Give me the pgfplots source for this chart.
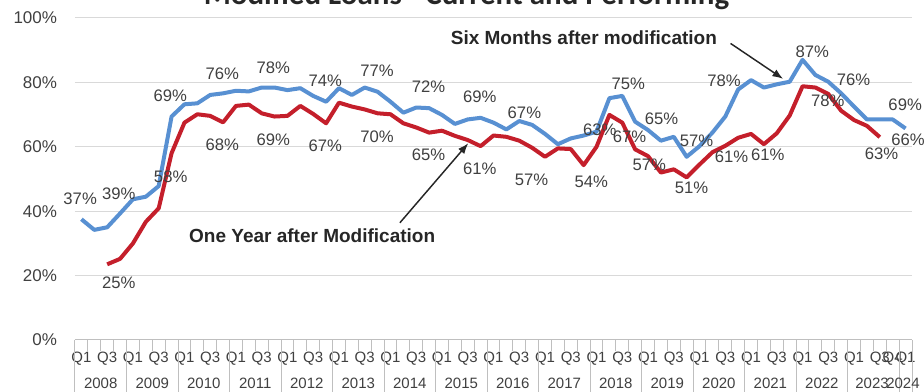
\documentclass[border=0pt]{standalone}
\usepackage{pgfplots}
\pgfplotsset{compat=1.18}
\usepackage{pgfplotstable}
\usepackage{fontspec}
\setmainfont{Liberation Sans}
\newfontfamily\titlefont{Carlito}
\usetikzlibrary{arrows.meta}
\definecolor{sixblue}{HTML}{5890D2}
\definecolor{yearred}{HTML}{C41F2B}
\definecolor{lbl}{HTML}{404040}
\definecolor{gridc}{HTML}{D9D9D9}
\definecolor{axc}{HTML}{BFBFBF}

\pgfplotstableread{
q v
0 37.5
1 34.2
2 35.0
3 39.3
4 43.7
5 44.5
6 47.8
7 69.4
8 73.2
9 73.5
10 76.1
11 76.6
12 77.4
13 77.2
14 78.4
15 78.4
16 77.6
17 78.2
18 75.8
19 74.0
20 78.2
21 76.1
22 78.4
23 77.1
24 74.0
25 70.6
26 72.2
27 72.0
28 69.9
29 67.1
30 68.5
31 69.0
32 67.5
33 65.4
34 68.0
35 66.8
36 64.0
37 60.8
38 62.6
39 63.5
40 64.7
41 75.1
42 75.8
43 67.8
44 65.2
45 61.9
46 63.1
47 56.9
48 60.2
49 64.4
50 69.4
51 77.8
52 80.7
53 78.4
54 79.4
55 80.2
56 87.0
57 82.3
58 80.2
59 76.6
60 72.5
61 68.5
62 68.5
63 68.5
64 65.7
}\sixmonths

\pgfplotstableread{
q v
2 23.5
3 25.2
4 30.0
5 36.7
6 40.9
7 58.0
8 67.5
9 70.1
10 69.6
11 67.6
12 72.7
13 73.1
14 70.4
15 69.4
16 69.6
17 72.7
18 70.2
19 67.3
20 73.7
21 72.5
22 71.6
23 70.4
24 70.1
25 67.3
26 66.0
27 64.4
28 65.0
29 63.4
30 62.1
31 60.2
32 63.5
33 63.1
34 61.9
35 59.7
36 56.9
37 59.5
38 59.3
39 54.3
40 60.0
41 69.9
42 67.5
43 59.2
44 57.1
45 52.0
46 53.0
47 50.5
48 54.5
49 58.3
50 60.3
51 62.8
52 64.0
53 60.8
54 64.2
55 69.7
56 78.8
57 78.4
58 76.4
59 71.2
60 68.3
61 66.5
62 63.0
}\oneyear

\begin{document}
\begin{tikzpicture}[x=1pt,y=1pt]
\begin{axis}[
  at={(0pt,0pt)}, anchor=south west,
  scale only axis, width=627.75pt, height=241.5pt,
  xmin=-0.5, xmax=64.5, ymin=0, ymax=100,
  clip=false,
  axis lines*=left,
  x axis line style={draw=axc, line width=0.75pt},
  y axis line style={draw=none},
  ymajorgrids, grid style={draw=gridc, line width=0.75pt},
  ytick={0,20,40,60,80,100},
  yticklabels={0\%,20\%,40\%,60\%,80\%,100\%},
  y tick style={draw=none},
  yticklabel style={font=\fontsize{12.75}{14}\selectfont, text=lbl, anchor=east, inner sep=0pt, xshift=-13.3pt},
  xtick={0,2,4,6,8,10,12,14,16,18,20,22,24,26,28,30,32,34,36,38,40,42,44,46,48,50,52,54,56,58,60,62,63,64},
  xticklabels={Q1,Q3,Q1,Q3,Q1,Q3,Q1,Q3,Q1,Q3,Q1,Q3,Q1,Q3,Q1,Q3,Q1,Q3,Q1,Q3,Q1,Q3,Q1,Q3,Q1,Q3,Q1,Q3,Q1,Q3,Q1,Q3,Q4,Q1},
  xticklabel style={font=\fontsize{11.25}{13}\selectfont, text=lbl, anchor=center, inner sep=0pt, yshift=-14.25pt},
  major tick length=0pt,
  minor xtick={-0.5,0.5,...,64.5},
  minor tick length=8.25pt,
  tick align=outside,
  x tick style={draw=axc, line width=0.75pt},
  every axis plot/.append style={no markers, line join=round},
  nodes near coords style={},
]
\addplot[sixblue, line width=3pt] table[x=q,y=v]{\sixmonths};
\addplot[yearred, line width=3pt] table[x=q,y=v]{\oneyear};

\pgfplotsinvokeforeach{-0.5,3.5,7.5,11.5,15.5,19.5,23.5,27.5,31.5,35.5,39.5,43.5,47.5,51.5,55.5,59.5,63.5,64.5}{
  \draw[axc, line width=0.75pt] (axis cs:#1,0) -- ++(0pt,-39pt);
}

\tikzset{yl/.style={font=\fontsize{11.25}{13}\selectfont, text=lbl, inner sep=0pt, anchor=center, yshift=-32.25pt}}
\node[yl] at (axis cs:1.5,0) {2008};
\node[yl] at (axis cs:5.5,0) {2009};
\node[yl] at (axis cs:9.5,0) {2010};
\node[yl] at (axis cs:13.5,0) {2011};
\node[yl] at (axis cs:17.5,0) {2012};
\node[yl] at (axis cs:21.5,0) {2013};
\node[yl] at (axis cs:25.5,0) {2014};
\node[yl] at (axis cs:29.5,0) {2015};
\node[yl] at (axis cs:33.5,0) {2016};
\node[yl] at (axis cs:37.5,0) {2017};
\node[yl] at (axis cs:41.5,0) {2018};
\node[yl] at (axis cs:45.5,0) {2019};
\node[yl] at (axis cs:49.5,0) {2020};
\node[yl] at (axis cs:53.5,0) {2021};
\node[yl] at (axis cs:57.5,0) {2022};
\node[yl] at (axis cs:61.4,0) {2023};
\node[yl] at (axis cs:63.8,0) {2024};

\tikzset{dl/.style={font=\fontsize{12.5}{14}\selectfont, text=lbl, inner sep=0pt, anchor=center}}
\node[dl] at (axis cs:-0.1,44.0) {37\%};
\node[dl] at (axis cs:2.9,45.3) {39\%};
\node[dl] at (axis cs:2.9,17.8) {25\%};
\node[dl] at (axis cs:6.93,50.7) {58\%};
\node[dl] at (axis cs:6.9,75.9) {69\%};
\node[dl] at (axis cs:10.94,82.8) {76\%};
\node[dl] at (axis cs:10.94,60.6) {68\%};
\node[dl] at (axis cs:14.9,84.4) {78\%};
\node[dl] at (axis cs:14.9,62.1) {69\%};
\node[dl] at (axis cs:18.93,80.4) {74\%};
\node[dl] at (axis cs:18.93,60.2) {67\%};
\node[dl] at (axis cs:22.95,83.5) {77\%};
\node[dl] at (axis cs:22.95,63.1) {70\%};
\node[dl] at (axis cs:26.96,78.5) {72\%};
\node[dl] at (axis cs:26.96,57.5) {65\%};
\node[dl] at (axis cs:30.94,75.6) {69\%};
\node[dl] at (axis cs:30.94,53.3) {61\%};
\node[dl] at (axis cs:34.4,70.6) {67\%};
\node[dl] at (axis cs:34.96,49.9) {57\%};
\node[dl] at (axis cs:39.6,49.2) {54\%};
\node[dl] at (axis cs:40.26,65.4) {63\%};
\node[dl] at (axis cs:42.46,79.7) {75\%};
\node[dl] at (axis cs:42.56,63.1) {67\%};
\node[dl] at (axis cs:45.05,68.8) {65\%};
\node[dl] at (axis cs:44.09,54.3) {57\%};
\node[dl] at (axis cs:47.77,61.9) {57\%};
\node[dl] at (axis cs:47.38,47.4) {51\%};
\node[dl] at (axis cs:49.9,80.5) {78\%};
\node[dl] at (axis cs:50.48,56.9) {61\%};
\node[dl] at (axis cs:53.3,57.5) {61\%};
\node[dl] at (axis cs:56.75,89.5) {87\%};
\node[dl] at (axis cs:57.96,74.3) {78\%};
\node[dl] at (axis cs:59.96,80.7) {76\%};
\node[dl] at (axis cs:62.13,57.8) {63\%};
\node[dl] at (axis cs:63.97,73.0) {69\%};
\node[dl] at (axis cs:64.2,62.3) {66\%};

\node[font=\bfseries\fontsize{14.25}{16}\selectfont, text=black!85, inner sep=0pt, anchor=center] at (axis cs:39.02,93.9) {Six Months after modification};
\node[font=\bfseries\fontsize{14.25}{16}\selectfont, text=black!85, inner sep=0pt, anchor=center] at (axis cs:17.92,32.3) {One Year after Modification};
\draw[black!85, line width=1.1pt, -{Latex[length=8pt,width=6pt]}] (axis cs:50.41,92.1) -- (axis cs:54.49,81.1);
\draw[black!85, line width=1.1pt, -{Latex[length=8pt,width=6pt]}] (axis cs:24.73,36.4) -- (axis cs:30.04,61.1);
\end{axis}
\node[anchor=base, font=\titlefont\bfseries\fontsize{23.25}{28}\selectfont, text=black!85, inner sep=0pt] at (293.6pt,251.25pt) {Modified Loans - Current and Performing};
\pgfresetboundingbox
\path (-56.25pt,-39pt) rectangle (636.75pt,255pt);
\end{tikzpicture}
\end{document}
